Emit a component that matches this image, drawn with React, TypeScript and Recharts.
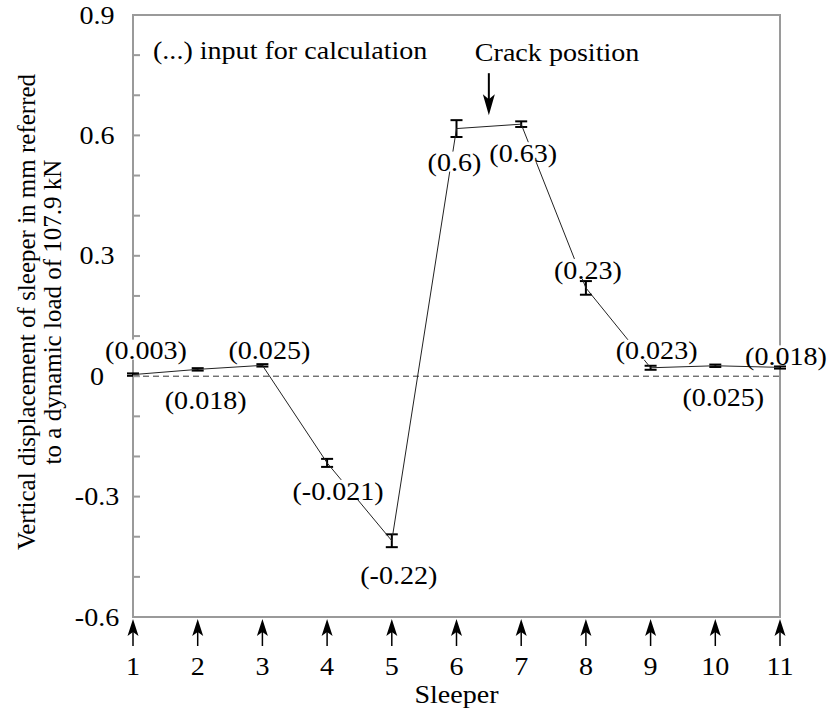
import React from 'react';
import {
  ComposedChart,
  Line,
  XAxis,
  YAxis,
  ErrorBar,
  LabelList,
  ReferenceLine,
  ReferenceArea,
} from 'recharts';

// Measured vertical sleeper displacement (mm, per 107.9 kN dynamic load)
const sleepers = [1, 2, 3, 4, 5, 6, 7, 8, 9, 10, 11];
const displacement = [0.004, 0.017, 0.027, -0.216, -0.41, 0.617, 0.628, 0.22, 0.021, 0.026, 0.022];
const spread = [0.003, 0.003, 0.003, 0.01, 0.016, 0.021, 0.007, 0.017, 0.005, 0.003, 0.003];
// Values used as input for the calculation
const inputValues = ['(0.003)', '(0.018)', '(0.025)', '(-0.021)', '(-0.22)', '(0.6)', '(0.63)', '(0.23)', '(0.023)', '(0.025)', '(0.018)'];

const yTicks = [-0.6, -0.5, -0.4, -0.3, -0.2, -0.1, 0, 0.1, 0.2, 0.3, 0.4, 0.5, 0.6, 0.7, 0.8, 0.9];
const yTickLabels = ['-0.6', '-0.3', '0', '0.3', '0.6', '0.9'];
const crackPosition = 6.5;
const crackArrowTop = 0.755;
const crackArrowTip = 0.65;

const data = sleepers.map((s, i) => ({
  sleeper: s,
  disp: displacement[i],
  err: spread[i],
  input: inputValues[i],
}));

const FONT = "'Liberation Serif', 'Times New Roman', Tinos, 'DejaVu Serif', serif";
const FRAME = '#9a9a9a';

type WideTextProps = {
  x: number;
  y: number;
  anchor?: 'start' | 'middle' | 'end';
  size?: number;
  children: React.ReactNode;
};

// Serif text, slightly widened horizontally
const WideText = ({ x, y, anchor = 'middle', size = 26, children }: WideTextProps) => (
  <text
    transform={`translate(${x},${y}) scale(1.08,1)`}
    textAnchor={anchor}
    dominantBaseline="central"
    style={{ fontFamily: FONT, fontSize: size }}
    fill="#000"
  >
    {children}
  </text>
);

// offset of each bracketed label from its point, in px
const labelPlacement: [number, number][] = [
  [13, -24], [8, 31], [7, -15], [11, 28], [7, 35], [-2, 34],
  [2, 29], [2, -18], [6, -17], [8, 32], [6, -11],
];

const InputLabel = (props: any) => {
  const { x, y, value, index } = props;
  if (x == null || y == null) return null;
  const [dx, dy] = labelPlacement[index] || [0, -20];
  const cx = x + dx;
  const cy = y + dy;
  const w = String(value).length * 11.6 + 2;
  return (
    <g>
      <rect x={cx - w / 2} y={cy - 11} width={w} height={20} fill="#fff" />
      <WideText x={cx} y={cy}>{value}</WideText>
    </g>
  );
};

const YTick = (props: any) => {
  const { x, y, payload } = props;
  const label = String(payload.value);
  const show = yTickLabels.includes(label);
  return (
    <g>
      <line x1={x} x2={x + 7} y1={y} y2={y} stroke={FRAME} strokeWidth={2} />
      {show && <WideText x={x - 36} y={y}>{label}</WideText>}
    </g>
  );
};

const SleeperTick = (props: any) => {
  const { x, y, payload } = props;
  return (
    <g>
      <line x1={x} x2={x} y1={y + 14} y2={y + 29} stroke="#000" strokeWidth={1.5} />
      <path
        d={`M${x},${y + 2} L${x + 5.5},${y + 19} L${x},${y + 15} L${x - 5.5},${y + 19} Z`}
        fill="#000"
      />
      <WideText x={x} y={y + 49}>{payload.value}</WideText>
    </g>
  );
};

const CrackArrow = (props: any) => {
  const { x1, y1, y2 } = props;
  if (x1 == null) return null;
  return (
    <g>
      <line x1={x1} x2={x1} y1={y1} y2={y2 - 14} stroke="#000" strokeWidth={2} />
      <path d={`M${x1},${y2} L${x1 + 6},${y2 - 21} L${x1},${y2 - 16} L${x1 - 6},${y2 - 21} Z`} fill="#000" />
      <WideText x={x1 - 14} y={y1 - 21} anchor="start">Crack position</WideText>
    </g>
  );
};

const NoteLabel = (props: any) => {
  const vb = props.viewBox || {};
  return (
    <WideText x={vb.x + 20} y={vb.y + 35} anchor="start">(...) input for calculation</WideText>
  );
};

const XTitle = (props: any) => {
  const vb = props.viewBox || {};
  return <WideText x={vb.x + vb.width / 2} y={vb.y + 77}>Sleeper</WideText>;
};

const YTitle = (props: any) => {
  const vb = props.viewBox || {};
  const cy = vb.y + vb.height / 2 - 4;
  const line = (x: number, t: string) => (
    <text
      transform={`translate(${x},${cy}) rotate(-90)`}
      textAnchor="middle"
      dominantBaseline="central"
      style={{ fontFamily: FONT, fontSize: 25 }}
      fill="#000"
    >
      {t}
    </text>
  );
  return (
    <g>
      {line(26, 'Vertical displacement of sleeper in mm referred')}
      {line(52, 'to a dynamic load of 107.9 kN')}
    </g>
  );
};

export default function App() {
  return (
    <div style={{ position: 'absolute', left: 0, top: 0, background: '#fff', fontFamily: FONT }}>
      <ComposedChart
        width={832}
        height={717}
        data={data}
        margin={{ top: 15, right: 52, bottom: 0, left: 0 }}
      >
        <XAxis
          dataKey="sleeper"
          type="number"
          domain={[1, 11]}
          ticks={sleepers}
          interval={0}
          height={100}
          axisLine={false}
          tickLine={false}
          tickSize={0}
          tickMargin={0}
          tick={<SleeperTick />}
          label={{ content: <XTitle /> }}
        />
        <YAxis
          type="number"
          domain={[-0.6, 0.9]}
          ticks={yTicks}
          interval={0}
          width={133}
          axisLine={false}
          tickLine={false}
          tickSize={0}
          tickMargin={0}
          tick={<YTick />}
          label={{ content: <YTitle /> }}
        />
        <ReferenceArea
          x1={1}
          x2={11}
          y1={-0.6}
          y2={0.9}
          fill="none"
          fillOpacity={0}
          stroke={FRAME}
          strokeWidth={2}
          label={{ content: <NoteLabel /> }}
        />
        <ReferenceLine y={0} stroke="#333" strokeWidth={1} strokeDasharray="6 4" />
        <ReferenceLine
          segment={[
            { x: crackPosition, y: crackArrowTop },
            { x: crackPosition, y: crackArrowTip },
          ]}
          shape={<CrackArrow />}
        />
        <Line
          type="linear"
          dataKey="disp"
          stroke="#222"
          strokeWidth={1}
          dot={false}
          activeDot={false}
          isAnimationActive={false}
        >
          <ErrorBar dataKey="err" width={6} strokeWidth={2} stroke="#000" direction="y" />
          <LabelList dataKey="input" content={<InputLabel />} />
        </Line>
      </ComposedChart>
    </div>
  );
}
